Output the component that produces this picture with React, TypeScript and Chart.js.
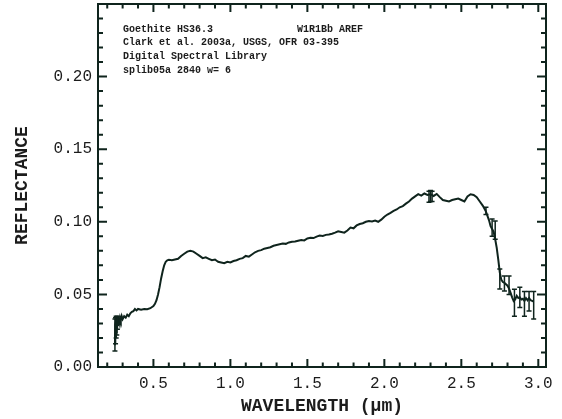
import React, { useEffect, useRef } from "react";
import { Chart, registerables } from "chart.js";

Chart.register(...registerables);

// ---- data ----
const wavelength = [
  0.25, 0.252, 0.254, 0.256, 0.258, 0.26, 0.263, 0.266, 0.27, 0.274, 0.278, 0.283, 0.288, 0.294,
  0.3, 0.31, 0.32, 0.33, 0.34, 0.35, 0.36, 0.37, 0.38, 0.39, 0.4, 0.42, 0.44, 0.46, 0.48, 0.5,
  0.51, 0.52, 0.53, 0.54, 0.55, 0.56, 0.57, 0.58, 0.59, 0.6, 0.62, 0.64, 0.66, 0.68, 0.7, 0.72,
  0.74, 0.76, 0.78, 0.8, 0.82, 0.84, 0.86, 0.88, 0.9, 0.92, 0.94, 0.96, 0.98, 1.0, 1.02, 1.04,
  1.06, 1.08, 1.1, 1.12, 1.14, 1.16, 1.18, 1.2, 1.22, 1.24, 1.26, 1.28, 1.3, 1.32, 1.34, 1.36,
  1.38, 1.4, 1.42, 1.44, 1.46, 1.48, 1.5, 1.52, 1.54, 1.56, 1.58, 1.6, 1.62, 1.64, 1.66, 1.68,
  1.7, 1.72, 1.74, 1.76, 1.78, 1.8, 1.82, 1.84, 1.86, 1.88, 1.9, 1.92, 1.94, 1.96, 1.98, 2.0,
  2.02, 2.04, 2.06, 2.08, 2.1, 2.12, 2.14, 2.16, 2.18, 2.2, 2.22, 2.24, 2.26, 2.28, 2.3, 2.32,
  2.34, 2.36, 2.38, 2.4, 2.42, 2.44, 2.46, 2.48, 2.5, 2.52, 2.54, 2.56, 2.58, 2.6, 2.62, 2.64,
  2.66, 2.68, 2.69, 2.7, 2.71, 2.72, 2.73, 2.74, 2.75, 2.76, 2.77, 2.78, 2.79, 2.8, 2.81, 2.82,
  2.83, 2.84, 2.85, 2.86, 2.87, 2.88, 2.89, 2.9, 2.91, 2.92, 2.93, 2.94, 2.95, 2.96, 2.97,
];
const reflectance = [
  0.015, 0.03, 0.02, 0.031, 0.024, 0.032, 0.027, 0.033, 0.029, 0.034, 0.031, 0.034, 0.032, 0.035,
  0.033, 0.035, 0.034, 0.036, 0.035, 0.037, 0.038, 0.0385, 0.04, 0.039, 0.04, 0.0395, 0.04, 0.0398, 0.0405, 0.042,
  0.0435, 0.046, 0.05, 0.055, 0.061, 0.066, 0.07, 0.0725, 0.0735, 0.0738, 0.0735, 0.074, 0.0745, 0.0765, 0.078, 0.0795,
  0.08, 0.0795, 0.078, 0.0765, 0.075, 0.0755, 0.0745, 0.0735, 0.074, 0.0725, 0.072, 0.0715, 0.0725, 0.072, 0.073, 0.0735,
  0.0745, 0.075, 0.0765, 0.076, 0.0775, 0.079, 0.08, 0.0805, 0.0815, 0.082, 0.0825, 0.0835, 0.084, 0.0845, 0.085, 0.0848,
  0.0858, 0.0862, 0.0865, 0.087, 0.0875, 0.0872, 0.0885, 0.089, 0.0888, 0.0898, 0.0905, 0.0902, 0.091, 0.0912, 0.0918, 0.0925,
  0.0935, 0.093, 0.0925, 0.094, 0.096, 0.0955, 0.0975, 0.0985, 0.099, 0.1, 0.1005, 0.1002, 0.1008, 0.1, 0.1015, 0.1035,
  0.105, 0.1062, 0.1075, 0.1085, 0.11, 0.1108, 0.1125, 0.114, 0.116, 0.1175, 0.119, 0.118, 0.1195, 0.1185, 0.119, 0.1178,
  0.1192, 0.117, 0.115, 0.1145, 0.114, 0.115, 0.1155, 0.116, 0.115, 0.114, 0.1175, 0.119, 0.1185, 0.117, 0.114, 0.111,
  0.107, 0.101, 0.097, 0.095, 0.093, 0.088, 0.082, 0.074, 0.065, 0.06, 0.0585, 0.058, 0.057, 0.056, 0.054, 0.051,
  0.048, 0.0455, 0.0465, 0.049, 0.0475, 0.048, 0.0465, 0.047, 0.0455, 0.0475, 0.046, 0.0475, 0.046, 0.0455, 0.045,
];
const errWavelength = [0.25, 0.254, 0.258, 0.262, 0.266, 2.29, 2.3, 2.31, 2.66, 2.7, 2.72, 2.75, 2.78, 2.81, 2.845, 2.88, 2.91, 2.94, 2.97];
const errLow = [0.011, 0.016, 0.02, 0.022, 0.026, 0.1135, 0.114, 0.114, 0.105, 0.09, 0.088, 0.0537, 0.0523, 0.05, 0.035, 0.041, 0.035, 0.0385, 0.033];
const errHigh = [0.033, 0.034, 0.035, 0.034, 0.035, 0.121, 0.1215, 0.121, 0.11, 0.102, 0.1005, 0.0675, 0.0626, 0.0626, 0.0536, 0.055, 0.052, 0.052, 0.052];

const annotationLines = [
  "Goethite HS36.3",
  "Clark et al. 2003a, USGS, OFR 03-395",
  "Digital Spectral Library",
  "splib05a 2840 w= 6",
];
const annotationRight = "W1R1Bb AREF";
const xTitle = "WAVELENGTH (\u00b5m)";
const yTitle = "REFLECTANCE";

const X_MIN = 0.14;
const X_MAX = 3.05;
const Y_MIN = 0;
const Y_MAX = 0.25;

const INK = "#0f241d";
const TEXT = "#1c1c1c";
const MONO = "'Liberation Mono', 'DejaVu Sans Mono', monospace";

const decorPlugin = {
  id: "decor",
  afterDatasetsDraw(chart: any) {
    const { ctx, chartArea, scales } = chart;
    const xs = scales.x;
    const ys = scales.y;
    ctx.save();
    // error bars
    ctx.strokeStyle = INK;
    ctx.lineWidth = 1.5;
    for (let i = 0; i < errWavelength.length; i++) {
      const px = xs.getPixelForValue(errWavelength[i]);
      const lo = ys.getPixelForValue(errLow[i]);
      const hi = ys.getPixelForValue(errHigh[i]);
      ctx.beginPath();
      ctx.moveTo(px, lo);
      ctx.lineTo(px, hi);
      ctx.moveTo(px - 2.5, lo);
      ctx.lineTo(px + 2.5, lo);
      ctx.moveTo(px - 2.5, hi);
      ctx.lineTo(px + 2.5, hi);
      ctx.stroke();
    }
    // frame
    ctx.lineWidth = 2;
    ctx.strokeStyle = INK;
    ctx.strokeRect(chartArea.left, chartArea.top, chartArea.right - chartArea.left, chartArea.bottom - chartArea.top);
    // inward ticks
    for (let k = 2; k <= 30; k++) {
      const v = k / 10;
      const px = xs.getPixelForValue(v);
      const len = k % 5 === 0 ? 8 : 4.5;
      ctx.beginPath();
      ctx.moveTo(px, chartArea.bottom);
      ctx.lineTo(px, chartArea.bottom - len);
      ctx.moveTo(px, chartArea.top);
      ctx.lineTo(px, chartArea.top + len);
      ctx.stroke();
    }
    for (let k = 1; k < 25; k++) {
      const v = k / 100;
      const py = ys.getPixelForValue(v);
      const len = k % 5 === 0 ? 9 : 5;
      ctx.beginPath();
      ctx.moveTo(chartArea.left, py);
      ctx.lineTo(chartArea.left + len, py);
      ctx.moveTo(chartArea.right, py);
      ctx.lineTo(chartArea.right - len, py);
      ctx.stroke();
    }
    // annotation text
    ctx.fillStyle = TEXT;
    ctx.font = `bold 10px ${MONO}`;
    ctx.textBaseline = "middle";
    ctx.textAlign = "left";
    annotationLines.forEach((t, i) => {
      ctx.fillText(t, chartArea.left + 25, chartArea.top + 25 + i * 13.8);
    });
    ctx.fillText(annotationRight, chartArea.left + 199, chartArea.top + 25);
    // axis titles
    ctx.font = `bold 18px ${MONO}`;
    ctx.textAlign = "center";
    ctx.fillText(xTitle, (chartArea.left + chartArea.right) / 2, chartArea.bottom + 39);
    ctx.translate(22, (chartArea.top + chartArea.bottom) / 2);
    ctx.rotate(-Math.PI / 2);
    ctx.fillText(yTitle, 0, 0);
    ctx.restore();
  },
};

export default function App() {
  const ref = useRef<HTMLCanvasElement | null>(null);
  useEffect(() => {
    if (!ref.current) return;
    const chart = new Chart(ref.current, {
      type: "line",
      data: {
        datasets: [
          {
            data: wavelength.map((x, i) => ({ x, y: reflectance[i] })),
            borderColor: INK,
            borderWidth: 2,
            pointRadius: 0,
            tension: 0,
            fill: false,
          },
        ],
      },
      options: {
        responsive: false,
        animation: false,
        devicePixelRatio: 1,
        layout: { padding: { top: 4, right: 16, left: 0, bottom: 0 } },
        plugins: { legend: { display: false }, tooltip: { enabled: false } },
        scales: {
          x: {
            type: "linear",
            min: X_MIN,
            max: X_MAX,
            grid: { display: false, drawTicks: false },
            border: { display: false },
            afterFit: (s: any) => {
              s.height = 52;
              s.paddingLeft = 0;
              s.paddingRight = 0;
            },
            ticks: {
              stepSize: 0.5,
              includeBounds: false,
              autoSkip: false,
              maxRotation: 0,
              padding: 7,
              color: TEXT,
              font: { family: MONO, size: 16 },
              callback: (v: any) => Number(v).toFixed(1),
            },
          },
          y: {
            type: "linear",
            min: Y_MIN,
            max: Y_MAX,
            grid: { display: false, drawTicks: false },
            border: { display: false },
            afterFit: (s: any) => {
              s.width = 98;
              s.paddingTop = 0;
              s.paddingBottom = 0;
            },
            ticks: {
              stepSize: 0.05,
              includeBounds: false,
              padding: 6,
              color: TEXT,
              font: { family: MONO, size: 16 },
              callback: (v: any) => (Number(v) > 0.22 ? "" : Number(v).toFixed(2)),
            },
          },
        },
      },
      plugins: [decorPlugin],
    });
    return () => chart.destroy();
  }, []);
  return (
    <div style={{ position: "absolute", left: 0, top: 0, width: 562, height: 419, background: "#fff" }}>
      <canvas ref={ref} width={562} height={419} style={{ display: "block" }} />
    </div>
  );
}
